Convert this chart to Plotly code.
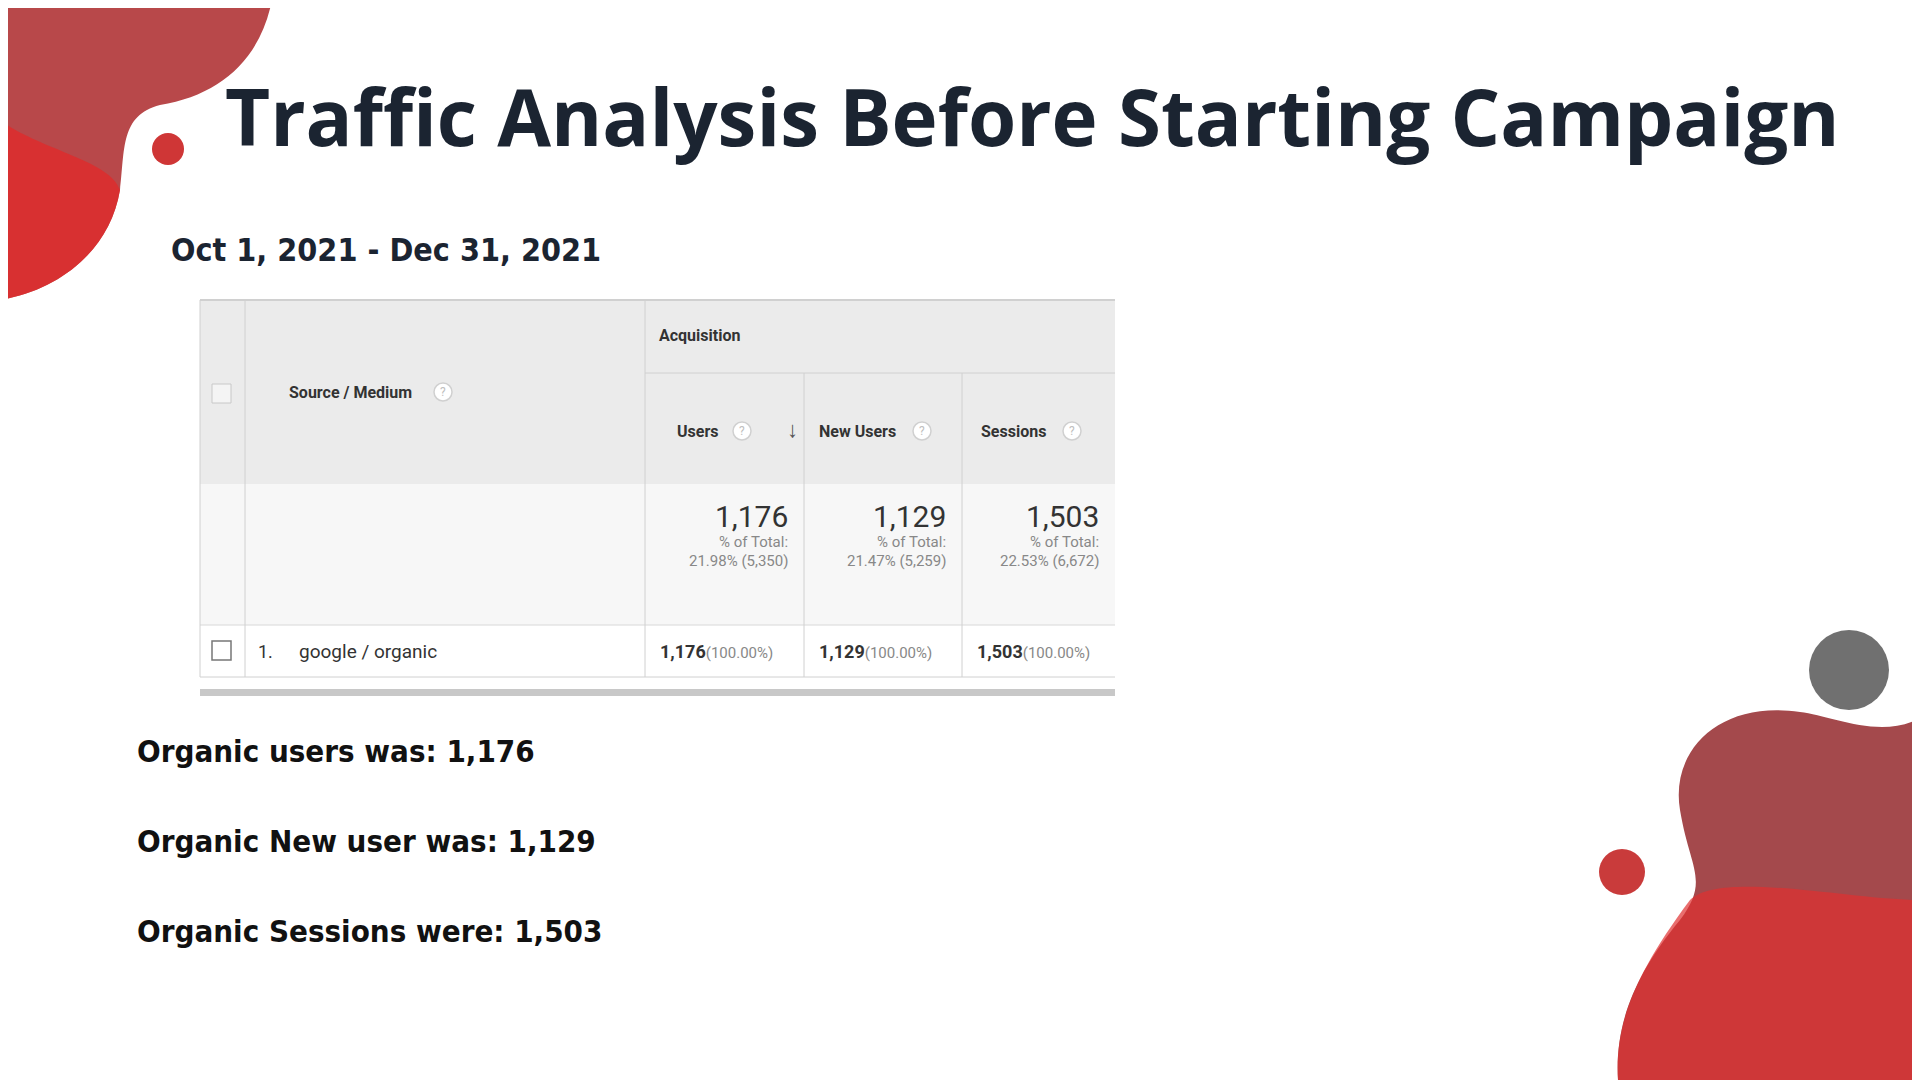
import plotly.graph_objects as go

title = "Traffic Analysis Before Starting Campaign"
date_range = "Oct 1, 2021 - Dec 31, 2021"
metrics = ["Users", "New Users", "Sessions"]
totals = ["1,176", "1,129", "1,503"]
pct_total = ["21.98% (5,350)", "21.47% (5,259)", "22.53% (6,672)"]
row_source = "google / organic"
row_vals = ["1,176", "1,129", "1,503"]
row_pct = ["(100.00%)", "(100.00%)", "(100.00%)"]
notes = ["Organic users was: 1,176", "Organic New user was: 1,129", "Organic Sessions were: 1,503"]

fig = go.Figure()
shapes = []
ann = []

def A(x, y, t, size, color="#222", bold=False, xa="left", ya="middle", fam="Roboto"):
    ann.append(dict(x=x, y=y, text=("<b>%s</b>" % t) if bold else t, showarrow=False, xanchor=xa, yanchor=ya,
                    font=dict(size=size, color=color, family=fam)))

def Q(x, y):
    shapes.append(dict(type="circle", x0=x - 9, y0=y - 9, x1=x + 9, y1=y + 9, fillcolor="#ffffff",
                       line=dict(color="#d0d0d0", width=1.5)))
    A(x, y, "?", 12, "#c0c0c0", xa="center")

# decorative blobs
shapes.append(dict(type="path", path="M0,0 L272,0 C260,60 220,95 160,105 C120,115 125,150 120,190 C110,250 60,290 0,300 Z",
                   fillcolor="#b8484a", line_width=0, layer="below"))
shapes.append(dict(type="path", path="M0,120 C40,150 110,160 120,190 C110,250 60,290 0,300 Z",
                   fillcolor="#e02a2a", line_width=0, opacity=0.8, layer="below"))
shapes.append(dict(type="circle", x0=152, y0=133, x1=184, y1=165, fillcolor="#cf3636", line_width=0))
shapes.append(dict(type="circle", x0=1809, y0=630, x1=1889, y1=710, fillcolor="#707070", line_width=0))
shapes.append(dict(type="circle", x0=1599, y0=849, x1=1645, y1=895, fillcolor="#c93b3b", line_width=0))
shapes.append(dict(type="path",
                   path="M1920,718 C1880,740 1830,715 1800,712 C1720,700 1670,750 1680,810 C1690,870 1710,880 1680,920 C1630,980 1615,1030 1618,1080 L1920,1080 Z",
                   fillcolor="#a4494c", line_width=0, layer="below"))
shapes.append(dict(type="path",
                   path="M1920,900 C1850,900 1720,870 1690,900 C1630,980 1615,1030 1618,1080 L1920,1080 Z",
                   fillcolor="#e03030", line_width=0, opacity=0.7, layer="below"))

A(1032, 116, title, 78, "#1b2431", True, "center", fam="Open Sans")
A(169, 250, date_range, 32, "#1b2431", True, fam="DejaVu Sans Condensed")

# table
xs = [200, 245, 645, 804, 962, 1115]
shapes.append(dict(type="rect", x0=200, y0=300, x1=1115, y1=484, fillcolor="#ebebeb", line_width=0))
shapes.append(dict(type="rect", x0=200, y0=484, x1=1115, y1=625, fillcolor="#f7f7f7", line_width=0))
shapes.append(dict(type="rect", x0=200, y0=625, x1=1115, y1=677, fillcolor="#ffffff", line_width=0))
shapes.append(dict(type="line", x0=200, y0=300, x1=1115, y1=300, line=dict(color="#d0d0d0", width=2)))
shapes.append(dict(type="line", x0=200, y0=677, x1=1115, y1=677, line=dict(color="#d0d0d0", width=1)))
shapes.append(dict(type="line", x0=200, y0=625, x1=1115, y1=625, line=dict(color="#d8d8d8", width=1)))
shapes.append(dict(type="line", x0=645, y0=373, x1=1115, y1=373, line=dict(color="#d0d0d0", width=1)))
for x in [245, 645]:
    shapes.append(dict(type="line", x0=x, y0=300, x1=x, y1=677, line=dict(color="#d0d0d0", width=1)))
for x in [804, 962]:
    shapes.append(dict(type="line", x0=x, y0=373, x1=x, y1=677, line=dict(color="#d0d0d0", width=1)))
shapes.append(dict(type="line", x0=200, y0=300, x1=200, y1=677, line=dict(color="#d0d0d0", width=1)))
shapes.append(dict(type="rect", x0=200, y0=689, x1=1115, y1=696, fillcolor="#c8c8c8", line_width=0))
shapes.append(dict(type="rect", x0=212, y0=384, x1=231, y1=403, fillcolor="#f4f4f4", line=dict(color="#c8c8c8", width=1)))
shapes.append(dict(type="rect", x0=212, y0=641, x1=231, y1=660, fillcolor="#fff", line=dict(color="#777", width=1.5)))

A(287, 392, "Source / Medium", 16, "#333", True)
Q(443, 392)
A(657, 335, "Acquisition", 16, "#333", True)
hx = [675, 817, 979]
qx = [742, 922, 1072]
for i, m in enumerate(metrics):
    A(hx[i], 431, m, 16, "#333", True)
    Q(qx[i], 431)
    right = xs[i + 3] - 14
    A(right, 516, totals[i], 30, "#333", xa="right")
    A(right, 542, "% of Total:", 15, "#888", xa="right")
    A(right, 561, pct_total[i], 15, "#888", xa="right")
    A(xs[i + 2] + 13, 651, "<b>%s</b><span style='font-size:15px;color:#888'>%s</span>" % (row_vals[i], row_pct[i]), 18, "#333")
A(792, 429, "<b>↓</b>", 22, "#555", xa="center")
A(256, 651, "1.", 18, "#333")
A(297, 651, row_source, 19, "#333")

for i, t in enumerate(notes):
    A(135, 751 + i * 90, t, 31, "#111", True, fam="DejaVu Sans Condensed")

fig.update_layout(width=1920, height=1080, margin=dict(l=0, r=0, t=0, b=0),
                  paper_bgcolor="white", plot_bgcolor="white", shapes=shapes, annotations=ann,
                  xaxis=dict(range=[8, 1928], visible=False),
                  yaxis=dict(range=[1088, 8], visible=False), showlegend=False)
fig.write_html("out.html")
